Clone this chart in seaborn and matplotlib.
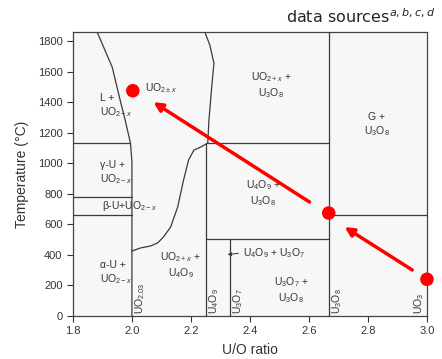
import matplotlib
matplotlib.use("Agg")
import matplotlib.pyplot as plt
import seaborn as sns
import pandas as pd

# phase boundaries (U/O ratio, temperature in C)
liq_x = [1.882, 1.933, 1.960, 1.977, 1.995, 2.0, 2.0]
liq_t = [1860, 1630, 1414, 1283, 1132, 1008, 0]
upper_x = [2.247, 2.264, 2.278, 2.271, 2.261, 2.257]
upper_t = [1860, 1774, 1655, 1512, 1283, 1132]
lower_x = [2.257, 2.233, 2.210, 2.192, 2.175, 2.155, 2.131, 2.107, 2.087, 2.063, 2.029, 2.0]
lower_t = [1132, 1106, 1086, 1021, 890, 713, 582, 517, 478, 458, 445, 425]

# straight boundaries: (x0, x1, t0, t1)
segments = [
    (1.8, 1.992, 1132, 1132),
    (1.8, 2.0, 779, 779),
    (1.8, 2.0, 661, 661),
    (2.257, 2.667, 1132, 1132),
    (2.25, 2.25, 0, 1132),
    (2.333, 2.333, 0, 504),
    (2.25, 2.667, 504, 504),
    (2.667, 2.667, 0, 1860),
    (2.667, 3.0, 661, 661),
]

region_labels = ["L +\nUO$_{2-x}$", "UO$_{2\\pm x}$", "UO$_{2+x}$ +\nU$_3$O$_8$", "G +\nU$_3$O$_8$",
                 "\u03b3-U +\nUO$_{2-x}$", "\u03b2-U+UO$_{2-x}$", "U$_4$O$_9$ +\nU$_3$O$_8$",
                 "\u03b1-U +\nUO$_{2-x}$", "UO$_{2+x}$ +\nU$_4$O$_9$", "U$_3$O$_7$ +\nU$_3$O$_8$"]
region_x = [1.892, 2.10, 2.472, 2.83, 1.892, 1.9, 2.445, 1.892, 2.165, 2.54]
region_t = [1374, 1490, 1512, 1250, 935, 720, 805, 280, 334, 170]

comp_labels = ["UO$_{2.03}$", "U$_4$O$_9$", "U$_3$O$_7$", "U$_3$O$_8$", "UO$_3$"]
comp_x = [2.0, 2.25, 2.333, 2.667, 3.0]

# red points and arrows
pts_x = [2.003, 2.667, 3.0]
pts_t = [1475, 674, 240]
arrows = [((2.602, 746), (2.073, 1400)), ((2.950, 301), (2.721, 582))]

sns.set_style("ticks")
plt.rcParams["font.family"] = ["Liberation Sans", "DejaVu Sans"]
plt.rcParams["mathtext.fontset"] = "custom"
plt.rcParams["mathtext.rm"] = "Liberation Sans"
plt.rcParams["mathtext.it"] = "Liberation Sans:italic"
plt.rcParams["mathtext.bf"] = "Liberation Sans:bold"

fig = plt.figure(figsize=(4.42, 3.59), dpi=100)
ax = fig.add_axes([0.165, 0.12, 0.801, 0.791])
ax.set_facecolor("#f7f7f7")

lc = "#3a3a3a"
for xs, ts in [(liq_x, liq_t), (upper_x, upper_t), (lower_x, lower_t)]:
    df = pd.DataFrame({"x": xs, "t": ts})
    sns.lineplot(data=df, x="x", y="t", sort=False, estimator=None, color=lc, lw=0.9, ax=ax)
for x0, x1, t0, t1 in segments:
    ax.plot([x0, x1], [t0, t1], color=lc, lw=0.9)

for lab, x, t in zip(region_labels, region_x, region_t):
    ax.text(x, t, lab, fontsize=7.5, color="#333333", ha="left" if x < 2.0 else "center",
            va="center", linespacing=1.25)

for lab, x in zip(comp_labels, comp_x):
    if x < 3.0:
        ax.text(x + 0.004, 12, lab, rotation=90, fontsize=7.5, color="#333333", ha="left", va="bottom")
    else:
        ax.text(x - 0.004, 12, lab, rotation=90, fontsize=7.5, color="#333333", ha="right", va="bottom")

ax.text(2.375, 412, "U$_4$O$_9$ + U$_3$O$_7$", fontsize=7.5, color="#333333", ha="left", va="center")
ax.annotate("", xy=(2.315, 400), xytext=(2.37, 412),
            arrowprops=dict(arrowstyle="-|>", color="#333333", lw=0.7, mutation_scale=5))

for (x0, t0), (x1, t1) in arrows:
    ax.annotate("", xy=(x1, t1), xytext=(x0, t0),
                arrowprops=dict(arrowstyle="-|>", color="red", lw=2.5, mutation_scale=13,
                                shrinkA=0, shrinkB=0))

sns.scatterplot(x=pts_x, y=pts_t, color="red", s=95, edgecolor="none", zorder=5, clip_on=False, ax=ax)

ax.set_xlim(1.8, 3.0)
ax.set_ylim(0, 1860)
ax.set_xticks([1.8, 2.0, 2.2, 2.4, 2.6, 2.8, 3.0])
ax.set_yticks(range(0, 1801, 200))
ax.tick_params(direction="out", length=4, width=0.8, labelsize=8, colors="#333333", labelcolor="#333333")
for sp in ax.spines.values():
    sp.set_color("#444444")
    sp.set_linewidth(0.9)

ax.set_xlabel("U/O ratio", fontsize=10, color="#333333", labelpad=5)
ax.set_ylabel("Temperature (\u00b0C)", fontsize=10, color="#333333", labelpad=6)

fig.text(0.985, 0.955, "data sources$^{a,b,c,d}$", fontsize=11.5, ha="right", va="center",
         family="DejaVu Sans", math_fontfamily="dejavusans")

fig.savefig("out.png", dpi=100, facecolor="white")
